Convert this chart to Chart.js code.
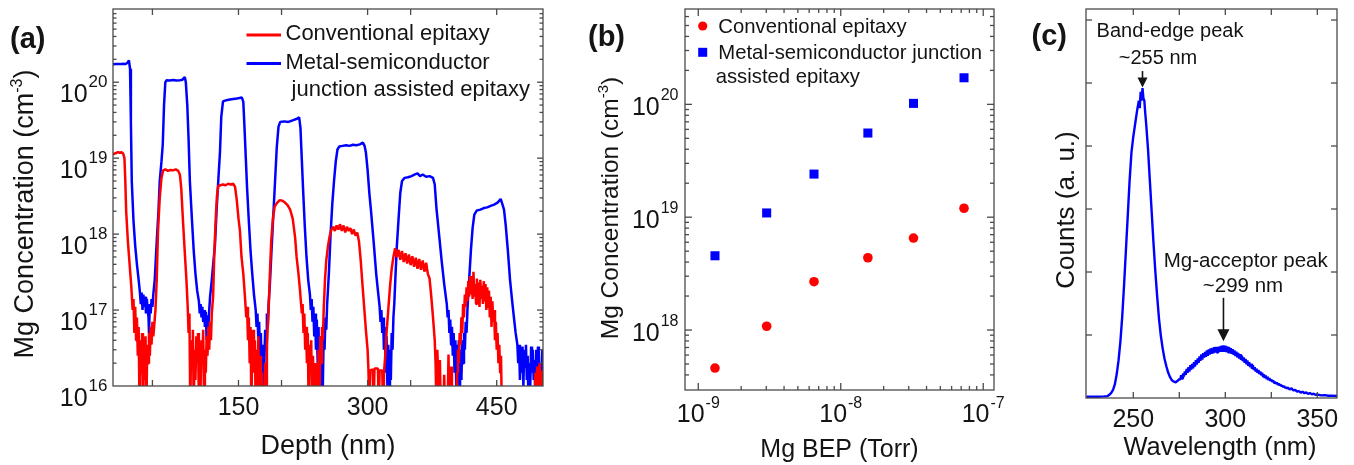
<!DOCTYPE html>
<html><head><meta charset="utf-8">
<script src="https://cdn.jsdelivr.net/npm/chart.js@4.4.1/dist/chart.umd.min.js"></script>
<style>
html,body{margin:0;padding:0;background:#fff;}
#wrap{position:relative;width:1354px;height:465px;overflow:hidden;background:#fff;}
canvas{position:absolute;left:0;top:0;}
</style></head><body>
<div id="wrap">
<canvas id="ca" width="1354" height="465"></canvas>
<canvas id="cb" width="1354" height="465"></canvas>
<canvas id="cc" width="1354" height="465"></canvas>
</div>
<script>
// ---------------- DATA ----------------
// (a) SIMS depth profiles: [depth nm, Mg concentration cm^-3]
const redProfile = [
[4,1.12e19],[6,1.15e19],[8,1.17e19],[10,1.2e19],[12,1.18e19],[14,1.2e19],[16,1.15e19],[17.5,1.0e19],[18.5,5e18],[19.5,2e18],[21.5,8e17],[23.5,4e17],[25.5,2e17],[27,1e17],
[28,1.4e17],[29,0.5e17],[30,1.1e17],[31,0.4e17],[32,0.8e17],[33,0.25e17],[34,0.6e17],[35,5e15],[36,0.4e17],[37,0.15e17],[38,0.5e17],[39,5e15],[40,0.3e17],[41,0.12e17],[42,0.45e17],[43,5e15],[44,0.35e17],[45,0.2e17],[46,0.5e17],[47,0.25e17],[48,0.6e17],[49,0.35e17],[50,0.7e17],[51,0.45e17],[52,0.6e17],[53.5,1.0e17],[55,2.5e17],[56.5,1.1e18],[58.5,3e18],[60.5,5.5e18],[62.5,6.9e18],[65,7.1e18],[68,6.8e18],[71,7e18],[74,6.9e18],[77,7.1e18],[80,6.8e18],[82,6e18],[83.5,4e18],[85.5,1.5e18],[87.5,6e17],[89.5,2.5e17],[91,1.1e17],
[92,0.5e17],[93,0.9e17],[94,5e15],[95,0.4e17],[96,0.2e17],[97,0.55e17],[98,5e15],[99,0.3e17],[100,0.12e17],[101,0.45e17],[102,0.2e17],[103,0.5e17],[104,5e15],[105,0.35e17],[106,0.1e17],[107,0.4e17],[108,0.2e17],[109,0.55e17],[110,5e15],[111,0.3e17],[112,0.15e17],[113,0.45e17],[114,0.25e17],[115,0.6e17],[116,0.3e17],[117,0.7e17],[118,0.4e17],[119,0.9e17],[120.5,1.5e17],[122,6e17],[123.8,1.8e18],[125,3.2e18],[126.5,4.3e18],[129,4.4e18],[132,4.5e18],[135,4.4e18],[138,4.6e18],[141,4.5e18],[144,4.6e18],[146,4.2e18],[148,2.8e18],[150,1.6e18],[151.7,1.1e18],[153.5,5e17],[155.6,3e17],[157.5,1.5e17],[159,0.8e17],
[160,1.1e17],[161,0.4e17],[162,0.8e17],[163,0.2e17],[164,0.6e17],[165,5e15],[166,0.4e17],[167,0.55e17],[168,0.15e17],[169,0.4e17],[170,5e15],[171,0.3e17],[172,0.1e17],[173,0.45e17],[174,5e15],[175,0.25e17],[176,5e15],[177,0.15e17],[178,5e15],[180,5e15],[181,0.2e17],[182,5e15],[183,0.35e17],[184,0.6e17],[185,1.0e17],[186.5,3e17],[188,8e17],[190,1.6e18],[192,2.3e18],[195,2.6e18],[198,2.8e18],[201,2.75e18],[204,2.6e18],[207,2.4e18],[210,2.1e18],[213,1.6e18],[215.8,9e17],[217.5,5e17],[219.7,3e17],[221.5,1.8e17],[223.6,0.9e17],
[224.5,1.2e17],[225.5,0.5e17],[226.5,0.9e17],[227.5,0.3e17],[228.5,0.6e17],[229.5,0.2e17],[230.5,0.5e17],[231.5,5e15],[232.5,0.35e17],[233.5,0.15e17],[234.5,0.4e17],[235.5,5e15],[236.5,0.25e17],[238,5e15],[239,0.2e17],[240,5e15],[242,5e15],[243,0.3e17],[244,5e15],[245,0.45e17],[246,0.2e17],[247,0.6e17],[248,0.4e17],[249,1.0e17],[250.5,2.5e17],[252,4.5e17],[254,7e17],[256,9.5e17],[258,1.15e18],[260,1.25e18],[262,1.1e18],[264,1.3e18],[266,1.15e18],[268,1.35e18],[270,1.1e18],[272,1.3e18],[274,1.05e18],[276,1.25e18],[278,1.1e18],[280,1.2e18],[282,1.0e18],[284,1.15e18],[286,0.95e18],[288,1.05e18],[290,8e17],[292,4.5e17],[294,2.2e17],[296,1.1e17],[298,5.5e16],[300,3e16],[301,1.6e16],[302,5e15],[303,1.6e16],[306,1.65e16],[307,5e15],[308,1.7e16],[312,1.7e16],[313,5e15],[314,1.6e16],[317,1.6e16],[318,5e15],[319,1.5e16],[320.5,2.5e16],[322,5e16],[324,1e17],[326,2e17],[328,3.5e17],[330,5e17],[332,6.5e17],[334,5e17],[336,6.2e17],[338,4.6e17],[340,6e17],[342,4.3e17],[344,5.6e17],[346,4.1e17],[348,5.4e17],[350,3.9e17],[352,5.1e17],[354,3.7e17],[356,4.9e17],[358,3.5e17],[360,4.7e17],[362,3.4e17],[364,4.5e17],[366,3.2e17],[368,4.2e17],[370,3e17],[372,2.6e17],[374,1.5e17],[376,8e16],[378,4e16],[379,2e16],[380,5e15],[381,3e16],[382,1.4e16],[383,5e15],[384,2.2e16],[385,5e15],[388,5e15],[389,1.4e16],[390,5e15],[393,5e15],[394,2.6e16],[395,5e15],[397,1.8e16],[398,5e15],[403,5e15],[404,1.5e16],[405,3e16],[406,2e16],[407,5e16],[408,3.5e16],[409,8e16],[410,5e16],[411,1.2e17],[412,8e16],[413,1.6e17],[414,1.1e17],[415,2e17],[416,1.3e17],[417,2.4e17],[418,1.5e17],[419,2.8e17],[420,1.6e17],[421,2.5e17],[422,1.4e17],[423,3.2e17],[424,1.5e17],[425,2.2e17],[426,1.2e17],[427,2.6e17],[428,1.3e17],[429,2.3e17],[430,1.1e17],[431,2.5e17],[432,1.4e17],[433,2.1e17],[434,1.2e17],[435,2.4e17],[436,1.3e17],[437,2.2e17],[438,1.0e17],[439,2.0e17],[440,1.1e17],[441,1.8e17],[442,0.8e17],[443,1.5e17],[444,0.6e17],[445,1.3e17],[446,0.7e17],[447,1.0e17],[448,0.4e17],[449,0.7e17],[450,0.3e17],[451,0.5e17],[452,0.2e17],[453,0.35e17],[454,0.15e17],[455,0.25e17],[456,5e15],[494,5e15],[495,1.5e16],[496,5e15],[497,1.8e16],[498,5e15],[499,1.5e16],[500,2e16],[501,5e15],[502,1.6e16],[503,5e15],[504,1.2e16]
];
const blueProfile = [
[4,1.72e20],[8,1.74e20],[12,1.73e20],[16,1.75e20],[19,1.74e20],[21,1.8e20],[22.7,1.93e20],[24,1.5e20],[25,3e19],[26,5e18],[28,1.5e18],[30,7e17],[32,4e17],[34,2.5e17],[35.5,1.7e17],
[36.5,1.2e17],[37.5,1.7e17],[38.5,1.0e17],[39.5,1.6e17],[40.5,1.1e17],[41.5,1.5e17],[42.5,0.9e17],[43.5,1.4e17],[44.5,1.0e17],[45.5,0.8e17],[46,5e16],[47,1.2e17],[48,0.9e17],[49,1.4e17],[50,1.1e17],[51,1.6e17],[52.7,2.5e17],[55,8e17],[57,2e18],[58.5,5e18],[60.5,9e18],[62,1.5e19],[63.5,5e19],[65,1e20],[66.5,1.06e20],[70,1.05e20],[74,1.07e20],[78,1.05e20],[82,1.06e20],[85,1.08e20],[87.6,1.17e20],[88.8,1.0e20],[90.5,5e19],[92,1.8e19],[93.5,5e18],[96,1.5e18],[98,6e17],[100,3e17],[102,1.8e17],[104,1.3e17],
[105,0.9e17],[106,1.2e17],[107,0.8e17],[108,1.1e17],[109,0.7e17],[110,1.0e17],[111,0.6e17],[112,0.95e17],[113,0.4e17],[114,0.85e17],[115,0.6e17],[116,1.0e17],[117,1.5e17],[119,2.5e17],[121,4.5e17],[122.6,7e17],[124.5,2e18],[126.5,5e18],[128.5,1.2e19],[130,3.5e19],[132,5.6e19],[136,5.8e19],[140,5.9e19],[144,6e19],[148,6.1e19],[151,6.2e19],[153.8,6.3e19],[155.6,5.5e19],[157,2.5e19],[158.5,1e19],[160,4e18],[162,1.5e18],[164,6e17],[166,3e17],[168,1.6e17],[170,1.0e17],
[171,0.6e17],[172,0.9e17],[173,0.4e17],[174,0.7e17],[175,0.25e17],[176,0.5e17],[177,0.15e17],[178,0.35e17],[179,5e15],[180,0.2e17],[181,0.55e17],[182,0.3e17],[183,0.9e17],[184,0.6e17],[185,1.2e17],[186.5,2.2e17],[188,5e17],[190,1.4e18],[192.5,5e18],[194.5,1.4e19],[196.5,2.6e19],[198.5,3.0e19],[203,3.05e19],[208,3.0e19],[213,3.15e19],[218,3.3e19],[220.5,3.45e19],[222,2.5e19],[223.5,1e19],[225,4e18],[227,1.3e18],[229,5e17],[231,2.5e17],[233,1.6e17],
[234,1.0e17],[235,1.4e17],[236,0.7e17],[237,1.1e17],[238,0.45e17],[239,0.9e17],[240,0.3e17],[241,0.75e17],[242,0.2e17],[243,0.6e17],[244,0.12e17],[245,0.45e17],[246,5e15],[247,0.35e17],[248,0.1e17],[249,0.5e17],[250,0.3e17],[251,0.8e17],[252,0.55e17],[253,1.2e17],[255,3e17],[257,1e18],[259,2.5e18],[261,5e18],[263,9e18],[265,1.3e19],[267,1.42e19],[271,1.45e19],[275,1.48e19],[279,1.45e19],[283,1.5e19],[287,1.48e19],[291,1.52e19],[294.5,1.6e19],[296.5,1.45e19],[298,1.2e19],[300,7e18],[302,3.5e18],[304,2e18],[307,8e17],[310,3e17],[312,1.8e17],[314,1.1e17],
[315,0.7e17],[316,1.0e17],[317,0.5e17],[318,0.8e17],[319,0.3e17],[320,0.6e17],[321,0.15e17],[322,0.45e17],[323,0.1e17],[324,0.35e17],[325,5e15],[326,0.3e17],[327,0.12e17],[328,0.5e17],[329,0.3e17],[330,0.8e17],[331,1.2e17],[332.5,3e17],[334,7e17],[336,1.6e18],[338,3.5e18],[340,5e18],[343,5.5e18],[347,5.6e18],[351,5.8e18],[355,6.1e18],[358,6.3e18],[361,5.8e18],[364,6.1e18],[368,5.7e18],[372,5.8e18],[376,5.5e18],[378,4.5e18],[380,2.2e18],[383,1e18],[386,4.5e17],[389,2.2e17],[392,1.2e17],
[393,0.8e17],[394,1.0e17],[395,0.5e17],[396,0.75e17],[397,0.35e17],[398,0.6e17],[399,0.25e17],[400,0.5e17],[401,0.15e17],[402,0.4e17],[403,0.1e17],[404,0.35e17],[405,0.15e17],[406,0.4e17],[407,5e15],[408,0.3e17],[409,0.12e17],[410,0.4e17],[411,0.2e17],[412,0.5e17],[413,0.3e17],[414,0.7e17],[415,0.5e17],[416,1.0e17],[418,2.5e17],[420,6e17],[422,1.2e18],[424,1.8e18],[427,2.05e18],[431,2.1e18],[435,2.2e18],[439,2.25e18],[443,2.35e18],[447,2.45e18],[451,2.6e18],[454.6,2.9e18],[456.5,2.5e18],[458.5,2.1e18],[460.5,1.3e18],[463,6e17],[465.5,2.5e17],[468,1.3e17],[470,0.8e17],[472,0.5e17],[474,0.35e17],
[475,0.2e17],[476,0.35e17],[477,0.12e17],[478,0.3e17],[479,0.15e17],[480,0.33e17],[481,0.1e17],[482,0.3e17],[483,0.18e17],[484,0.35e17],[485,0.12e17],[486,0.25e17],[487,5e15],[488,0.2e17],[489,0.1e17],[490,0.33e17],[491,0.15e17],[492,0.3e17],[493,0.12e17],[494,0.22e17],[495,5e15],[496,0.3e17],[497,0.15e17],[498,0.33e17],[499,0.1e17],[500,0.2e17],[501,5e15],[502,0.15e17],[503,0.3e17],[504,0.12e17]
];
const aSeriesNames = ['Conventional epitaxy', 'Metal-semiconductor', ' junction assisted epitaxy'];
const aXTickLabels = [150, 300, 450];
const aXTickMarks = [50, 150, 200, 300, 350, 450];
const aYTicks = [1e16, 1e17, 1e18, 1e19, 1e20];

// (b) Mg concentration vs Mg BEP
const bepTorr  = [1.31e-9, 3.02e-9, 6.49e-9, 1.55e-8, 3.24e-8, 7.33e-8];
const convConc = [4.6e17, 1.08e18, 2.68e18, 4.37e18, 6.53e18, 1.2e19];
const msjConc  = [4.55e18, 1.09e19, 2.41e19, 5.57e19, 1.02e20, 1.72e20];
const bSeriesNames = ['Conventional epitaxy', 'Metal-semiconductor junction', 'assisted epitaxy'];
const bXTicks = [1e-9, 1e-8, 1e-7];
const bYTicks = [1e18, 1e19, 1e20];

// (c) CL spectrum: [wavelength nm, counts a.u.]
const clSpectrum = [
[224.5,0.02],[228,0.02],[231,0.02],[234,0.025],[236,0.03],[237,0.05],[238,0.08],[239,0.13],[240,0.22],[241,0.38],[242,0.6],[243,0.9],[244,1.3],[245,1.8],[246,2.35],[247,2.9],[248,3.45],[249,3.9],[250,4.15],[251,4.35],[252,4.55],[253,4.72],[253.5,4.6],[254,4.86],[254.5,4.72],[255,4.92],[255.5,4.76],[256,4.72],[256.5,4.52],[257,4.35],[258,3.95],[259,3.45],[260,2.95],[261,2.45],[262,2.0],[263,1.6],[264,1.25],[265,0.98],[266,0.78],[267,0.62],[268,0.5],[269,0.4],[270,0.33],[271,0.28],[272,0.26],[273,0.25],[274,0.27],[275,0.30],
[275.5,0.29],[276,0.36],[276.5,0.31],[277,0.39],[277.5,0.34],[278,0.42],[278.5,0.37],[279,0.46],[279.5,0.40],[280,0.49],[280.5,0.42],[281,0.52],[281.5,0.45],[282,0.54],[282.5,0.47],[283,0.57],[283.5,0.50],[284,0.60],[284.5,0.53],[285,0.63],[285.5,0.56],[286,0.66],[286.5,0.59],[287,0.69],[287.5,0.61],[288,0.71],[288.5,0.64],[289,0.73],[289.5,0.655],[290,0.755],[290.5,0.67],[291,0.77],[291.5,0.69],[292,0.785],[292.5,0.70],[293,0.795],[293.5,0.71],[294,0.805],[294.5,0.72],[295,0.81],[295.5,0.72],[296,0.815],[296.5,0.73],[297,0.82],[297.5,0.735],[298,0.83],[298.5,0.735],[299,0.835],[299.5,0.735],[300,0.83],[300.5,0.73],[301,0.82],[301.5,0.725],[302,0.81],[302.5,0.71],[303,0.79],[303.5,0.70],[304,0.775],[304.5,0.685],[305,0.755],[305.5,0.665],[306,0.735],[306.5,0.645],[307,0.715],[307.5,0.625],[308,0.695],[308.5,0.605],[309,0.67],[309.5,0.585],[310,0.645],[310.5,0.56],[311,0.62],[311.5,0.535],[312,0.595],[312.5,0.51],[313,0.57],[313.5,0.49],[314,0.545],[314.5,0.465],[315,0.52],[315.5,0.445],[316,0.49],[316.5,0.42],[317,0.465],[317.5,0.40],[318,0.445],[318.5,0.38],[319,0.42],[319.5,0.36],[320,0.40],[320.5,0.34],[321,0.375],[321.5,0.32],[322,0.355],[322.5,0.30],[323,0.335],[323.5,0.285],[324,0.315],[324.5,0.27],[325,0.295],[325.5,0.255],[326,0.28],[326.5,0.24],[327,0.26],[327.5,0.225],[328,0.245],[328.5,0.21],[329,0.23],[329.5,0.20],[330,0.215],[330.5,0.185],[331,0.20],[331.5,0.17],[332,0.19],[332.5,0.16],[333,0.175],[333.5,0.148],[334,0.165],[335,0.135],[336,0.155],[337,0.12],[338,0.13],[339,0.10],[340,0.11],[341,0.085],[342,0.10],[343,0.075],[344,0.09],[345,0.065],[346,0.08],[347,0.058],[348,0.068],[349,0.05],[350,0.056],[352,0.042],[354,0.045],[356,0.035],[358,0.038],[361,0.03]
];
const cXTickLabels = [250, 300, 350];
const cXTickMarks = [250, 275, 300, 325, 350];
const cYTickMarks = [1, 2, 3, 4, 5, 6];
const clPeakNames = ['Band-edge peak', 'Mg-acceptor peak'];
const clPeakWavelengths = ['~255 nm', '~299 nm'];
const clArrowX = [255, 299];
const clArrowTail = [5.19, 1.59];
const clArrowTip = [4.93, 0.90];

// ---------------- HELPERS ----------------
const FF = '"Liberation Sans", Arial, Helvetica, sans-serif';
const INK = '#141414';
const RED = '#ff0000', BLUE = '#0000ff';
function fnt(sz, bold) { return (bold ? 'bold ' : '') + sz + 'px ' + FF; }
function txt(ctx, s, x, y, sz, align, bold) {
  ctx.font = fnt(sz, bold); ctx.textAlign = align || 'left'; ctx.textBaseline = 'alphabetic';
  ctx.fillStyle = INK; ctx.fillText(s, x, y);
}
function powLabel(ctx, base, exp, x, y, bSz, eSz, eDy, align) {
  ctx.font = fnt(bSz); const wb = ctx.measureText(base).width;
  ctx.font = fnt(eSz); const we = ctx.measureText(exp).width;
  const gap = 1;
  const tot = wb + gap + we;
  const x0 = align === 'right' ? x - tot : (align === 'center' ? x - tot / 2 : x);
  txt(ctx, base, x0, y, bSz, 'left');
  txt(ctx, exp, x0 + wb + gap, y + eDy, eSz, 'left');
}
function rotTitle(ctx, parts, bx, cy) {
  ctx.save(); ctx.translate(bx, cy); ctx.rotate(-Math.PI / 2);
  let tot = 0;
  const ws = parts.map(p => { ctx.font = fnt(p[1]); const w = ctx.measureText(p[0]).width; tot += w; return w; });
  let xo = -tot / 2;
  parts.forEach((p, i) => { txt(ctx, p[0], xo, -p[2], p[1], 'left'); xo += ws[i]; });
  ctx.restore();
}
function logMinors(lo, hi) {
  const out = [];
  for (let e = Math.floor(Math.log10(lo)) - 1; e <= Math.ceil(Math.log10(hi)); e++)
    for (let m = 2; m <= 9; m++) { const v = m * Math.pow(10, e); if (v >= lo * 0.999 && v <= hi * 1.001) out.push(v); }
  return out;
}
const expOf = v => String(Math.round(Math.log10(v)));

const frameTicks = {
  id: 'frameTicks',
  afterDatasetsDraw(chart, args, o) {
    const { ctx, chartArea: a, scales: { x, y } } = chart;
    ctx.save();
    ctx.strokeStyle = o.color; ctx.lineWidth = o.width; ctx.lineCap = 'butt';
    const seg = (x1, y1, x2, y2) => { ctx.beginPath(); ctx.moveTo(x1, y1); ctx.lineTo(x2, y2); ctx.stroke(); };
    const doX = (vals, len) => vals.forEach(v => { const p = x.getPixelForValue(v); if (p < a.left + 1 || p > a.right - 1) return; seg(p, a.bottom, p, a.bottom - len); seg(p, a.top, p, a.top + len); });
    const doY = (vals, len) => vals.forEach(v => { const p = y.getPixelForValue(v); if (p < a.top + 1 || p > a.bottom - 1) return; seg(a.left, p, a.left + len, p); seg(a.right, p, a.right - len, p); });
    doX(o.xMajor || [], o.majorLen); doX(o.xMinor || [], o.minorLen);
    doY(o.yMajor || [], o.majorLen); doY(o.yMinor || [], o.minorLen);
    ctx.strokeRect(a.left, a.top, a.right - a.left, a.bottom - a.top);
    ctx.restore();
  }
};
function pad(L, T, R, B) { return { left: L, top: T, right: 1354 - R, bottom: 465 - B }; }
const hidden = { display: false, bounds: 'data' };
const baseOpts = { responsive: false, animation: false, events: [], devicePixelRatio: 1 };

// ---------------- PANEL (a) ----------------
const aYMin = 1e16, aYMax = 9.2e20;
const panelA = {
  id: 'panelA',
  afterDraw(chart) {
    const { ctx, chartArea: a, scales: { x, y } } = chart;
    ctx.save();
    txt(ctx, '(a)', 10, 47.5, 29, 'left', true);
    aYTicks.forEach(v => { const p = y.getPixelForValue(v); powLabel(ctx, '10', expOf(v), 107.5, p + 20, 25, 17, -15, 'right'); });
    aXTickLabels.forEach(v => txt(ctx, String(v), x.getPixelForValue(v), 415, 25, 'center'));
    txt(ctx, 'Depth (nm)', (a.left + a.right) / 2, 454, 27, 'center');
    rotTitle(ctx, [['Mg Concentration (cm', 27, 0], ['-3', 16, 11], [')', 27, 0]], 32.6, 214);
    // legend
    const ds = chart.data.datasets;
    ctx.lineWidth = 3;
    ctx.strokeStyle = ds[0].borderColor; ctx.beginPath(); ctx.moveTo(246.5, 35); ctx.lineTo(281, 35); ctx.stroke();
    ctx.strokeStyle = ds[1].borderColor; ctx.beginPath(); ctx.moveTo(246.5, 63.5); ctx.lineTo(281, 63.5); ctx.stroke();
    txt(ctx, aSeriesNames[0], 285.5, 40, 22);
    txt(ctx, aSeriesNames[1], 285.5, 69, 22);
    txt(ctx, aSeriesNames[2], 285.5, 96, 22);
    ctx.restore();
  }
};
new Chart(document.getElementById('ca'), {
  type: 'line',
  data: { datasets: [
    { label: aSeriesNames[0], data: redProfile.map(p => ({ x: p[0], y: p[1] })), borderColor: RED, borderWidth: 2.5, pointRadius: 0, tension: 0, borderJoinStyle: 'bevel', clip: 0 },
    { label: aSeriesNames[1] + aSeriesNames[2], data: blueProfile.map(p => ({ x: p[0], y: p[1] })), borderColor: BLUE, borderWidth: 2.5, pointRadius: 0, tension: 0, borderJoinStyle: 'bevel', clip: 0 }
  ] },
  options: Object.assign({}, baseOpts, {
    layout: { padding: pad(113, 9, 543, 386) },
    scales: {
      x: Object.assign({ type: 'linear', min: 4.2, max: 503.8 }, hidden),
      y: Object.assign({ type: 'logarithmic', min: aYMin, max: aYMax }, hidden)
    },
    plugins: {
      legend: { display: false }, tooltip: { enabled: false },
      frameTicks: { color: '#4a4a4a', width: 1.3, majorLen: 6, minorLen: 3.5, xMajor: aXTickMarks, yMajor: aYTicks, yMinor: logMinors(aYMin, aYMax) }
    }
  }),
  plugins: [frameTicks, panelA]
});

// ---------------- PANEL (b) ----------------
const bXMin = 8.07e-10, bXMax = 1.19e-7, bYMin = 2.94e17, bYMax = 7e20;
const panelB = {
  id: 'panelB',
  afterDraw(chart) {
    const { ctx, chartArea: a, scales: { x, y } } = chart;
    ctx.save();
    txt(ctx, '(b)', 588, 46, 29, 'left', true);
    bYTicks.forEach(v => { const p = y.getPixelForValue(v); powLabel(ctx, '10', expOf(v), 678.5, p + 10.7, 25, 16, -15, 'right'); });
    bXTicks.forEach(v => { const p = x.getPixelForValue(v); powLabel(ctx, '10', expOf(v), p, 421.7, 25, 16, -13.7, 'center'); });
    txt(ctx, 'Mg BEP (Torr)', (a.left + a.right) / 2, 457, 25, 'center');
    rotTitle(ctx, [['Mg Concentration (cm', 24.5, 0], ['-3', 15, 10], [')', 24.5, 0]], 617.5, 208);
    const ds = chart.data.datasets;
    ctx.fillStyle = ds[0].backgroundColor; ctx.beginPath(); ctx.arc(702.7, 26, 4.6, 0, Math.PI * 2); ctx.fill();
    ctx.fillStyle = ds[1].backgroundColor; ctx.fillRect(702.7 - 4.5, 52.3 - 4.5, 9, 9);
    txt(ctx, bSeriesNames[0], 718.3, 32.8, 20.3);
    txt(ctx, bSeriesNames[1], 718.3, 59.4, 20.3);
    txt(ctx, bSeriesNames[2], 715.7, 83, 20.3);
    ctx.restore();
  }
};
new Chart(document.getElementById('cb'), {
  type: 'scatter',
  data: { datasets: [
    { label: bSeriesNames[0], data: bepTorr.map((v, i) => ({ x: v, y: convConc[i] })), pointStyle: 'circle', pointRadius: 4.8, backgroundColor: RED, borderColor: RED, borderWidth: 0 },
    { label: bSeriesNames[1] + ' ' + bSeriesNames[2], data: bepTorr.map((v, i) => ({ x: v, y: msjConc[i] })), pointStyle: 'rect', pointRadius: 6.4, backgroundColor: BLUE, borderColor: BLUE, borderWidth: 0 }
  ] },
  options: Object.assign({}, baseOpts, {
    layout: { padding: pad(685, 9, 994, 390) },
    scales: {
      x: Object.assign({ type: 'logarithmic', min: bXMin, max: bXMax }, hidden),
      y: Object.assign({ type: 'logarithmic', min: bYMin, max: bYMax }, hidden)
    },
    plugins: {
      legend: { display: false }, tooltip: { enabled: false },
      frameTicks: { color: '#4a4a4a', width: 1.3, majorLen: 7, minorLen: 4, xMajor: bXTicks, xMinor: logMinors(1e-9, bXMax), yMajor: bYTicks, yMinor: logMinors(bYMin, bYMax) }
    }
  }),
  plugins: [frameTicks, panelB]
});

// ---------------- PANEL (c) ----------------
const panelC = {
  id: 'panelC',
  afterDraw(chart) {
    const { ctx, chartArea: a, scales: { x, y } } = chart;
    ctx.save();
    txt(ctx, '(c)', 1031.5, 44.5, 29, 'left', true);
    cXTickLabels.forEach(v => txt(ctx, String(v), x.getPixelForValue(v), 426.7, 25, 'center'));
    txt(ctx, 'Wavelength (nm)', 1220, 455, 25.5, 'center');
    rotTitle(ctx, [['Counts (a. u.)', 26, 0]], 1073.5, 210);
    txt(ctx, clPeakNames[0], 1170, 36.5, 20, 'center');
    txt(ctx, clPeakWavelengths[0], 1158, 63.5, 20, 'center');
    txt(ctx, clPeakNames[1], 1245.7, 267, 20.5, 'center');
    txt(ctx, clPeakWavelengths[1], 1243, 292, 20.5, 'center');
    ctx.strokeStyle = INK; ctx.fillStyle = INK; ctx.lineWidth = 1.6;
    clArrowX.forEach((w, i) => {
      const px = x.getPixelForValue(w), y1 = y.getPixelForValue(clArrowTail[i]), y2 = y.getPixelForValue(clArrowTip[i]);
      const hh = i === 0 ? 10 : 12, hw = i === 0 ? 10 : 12;
      ctx.beginPath(); ctx.moveTo(px, y1); ctx.lineTo(px, y2 - hh + 1); ctx.stroke();
      ctx.beginPath(); ctx.moveTo(px, y2); ctx.lineTo(px - hw / 2, y2 - hh); ctx.lineTo(px + hw / 2, y2 - hh); ctx.closePath(); ctx.fill();
    });
    ctx.restore();
  }
};
new Chart(document.getElementById('cc'), {
  type: 'line',
  data: { datasets: [
    { label: 'CL spectrum', data: clSpectrum.map(p => ({ x: p[0], y: p[1] })), borderColor: BLUE, borderWidth: 2.4, pointRadius: 0, tension: 0, borderJoinStyle: 'bevel', clip: 0 }
  ] },
  options: Object.assign({}, baseOpts, {
    layout: { padding: pad(1086, 9, 1337, 398) },
    scales: {
      x: Object.assign({ type: 'linear', min: 224.3, max: 360.7 }, hidden),
      y: Object.assign({ type: 'linear', min: 0, max: 6.175 }, hidden)
    },
    plugins: {
      legend: { display: false }, tooltip: { enabled: false },
      frameTicks: { color: '#4a4a4a', width: 1.3, majorLen: 6, minorLen: 6, xMajor: cXTickMarks, yMajor: cYTickMarks }
    }
  }),
  plugins: [frameTicks, panelC]
});
</script>
</body></html>
